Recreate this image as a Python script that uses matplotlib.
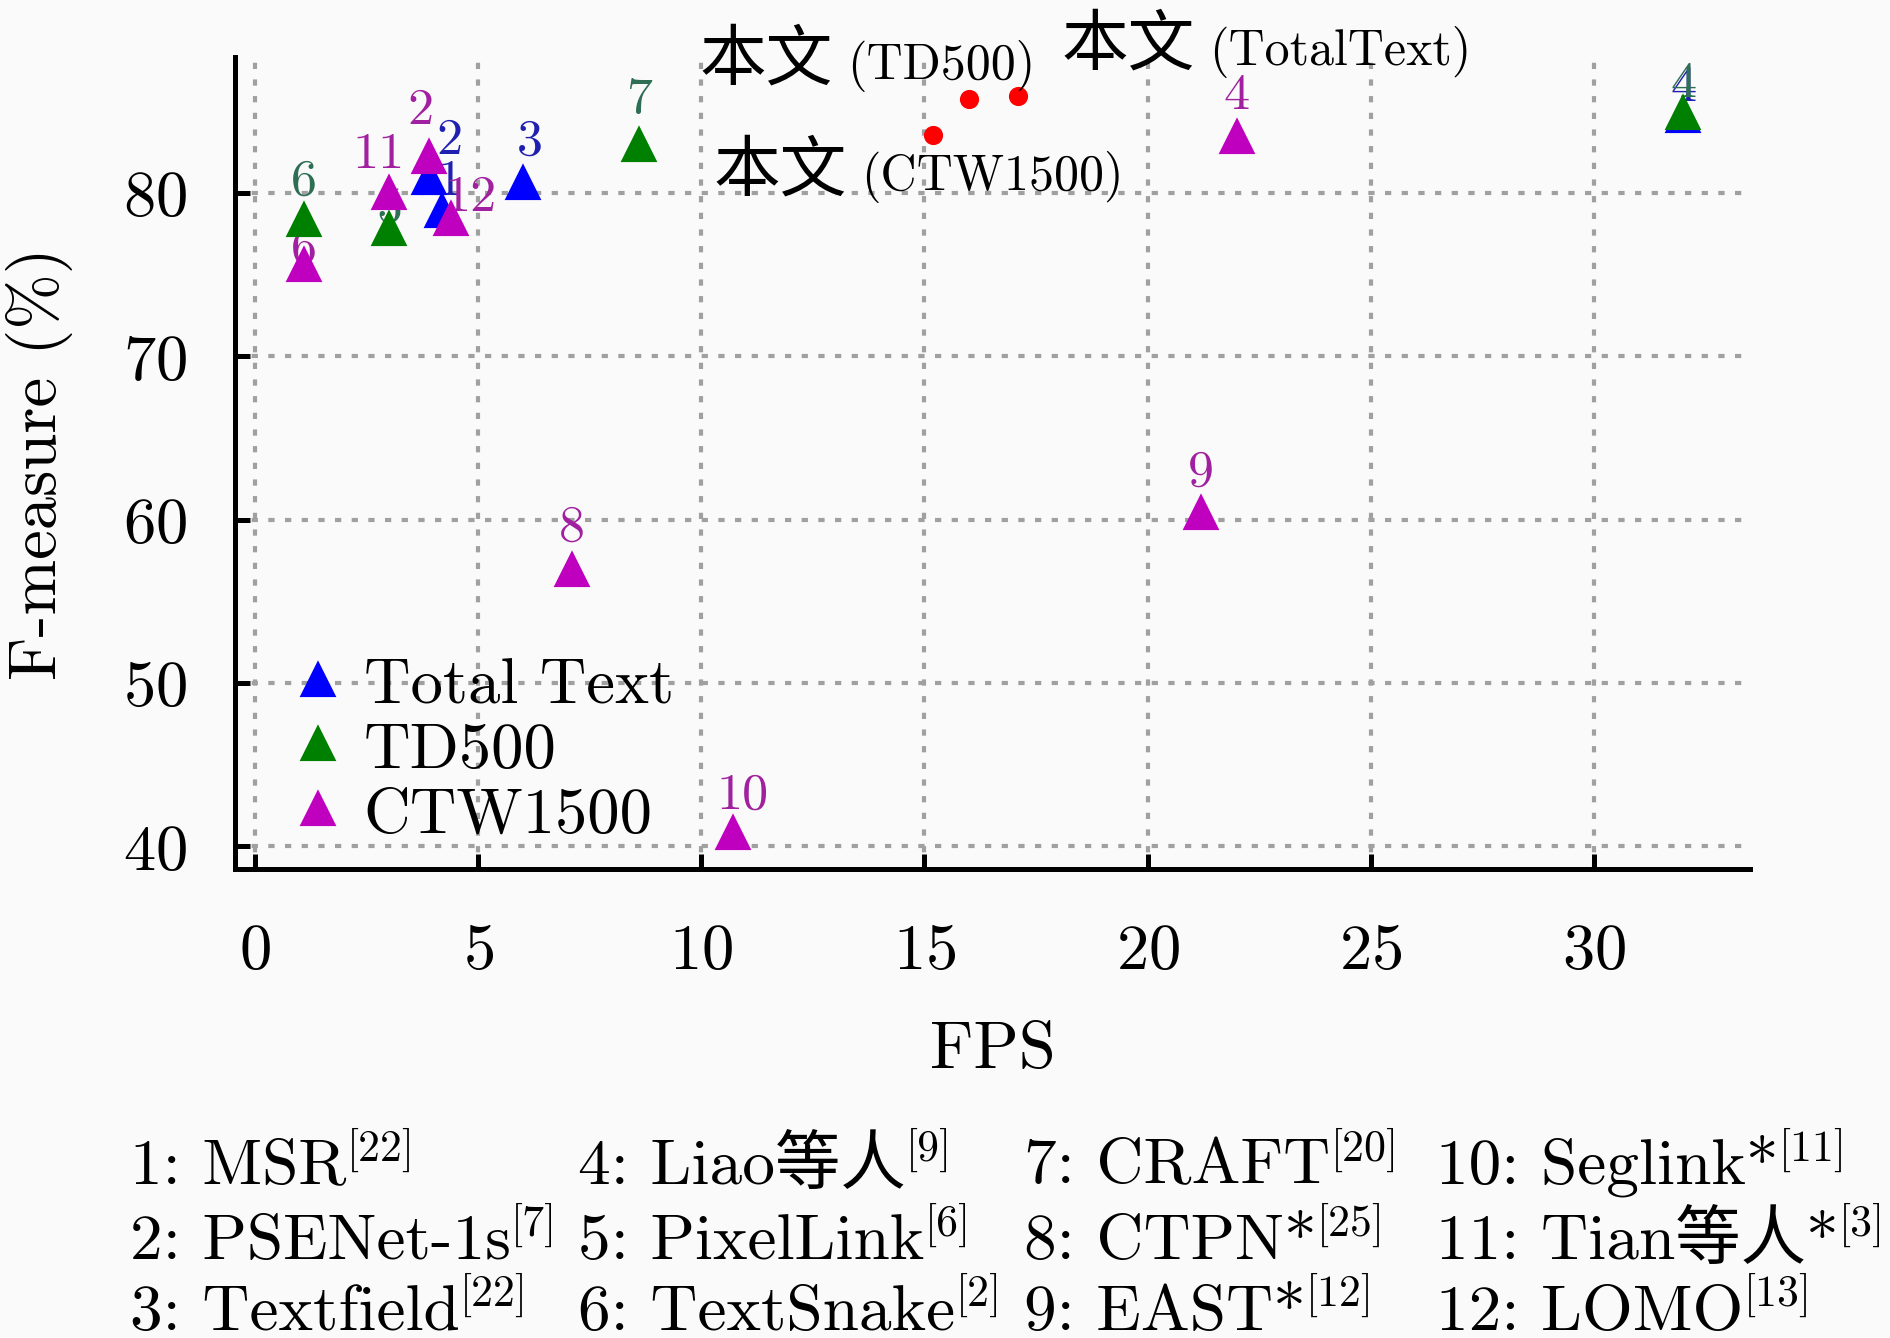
import numpy as np
import matplotlib
matplotlib.use('Agg')
import matplotlib.pyplot as plt

plt.rcParams['font.family'] = ['cmr10', 'Noto Sans CJK SC']
plt.rcParams['mathtext.fontset'] = 'cm'
plt.rcParams['axes.formatter.use_mathtext'] = True
plt.rcParams['axes.unicode_minus'] = False

# Total Text results (FPS, F-measure, method id)
fps_total = [4.2, 3.9, 6.0, 32.0]
f_total = [78.9, 80.9, 80.6, 84.7]
id_total = ['1', '2', '3', '4']

# MSRA-TD500
fps_td500 = [32.0, 3.0, 1.1, 8.6]
f_td500 = [84.9, 77.8, 78.3, 82.9]
id_td500 = ['4', '5', '6', '7']

# CTW1500
fps_ctw = [3.9, 22.0, 1.1, 7.1, 21.2, 10.7, 3.0, 4.4]
f_ctw = [82.2, 83.4, 75.6, 56.9, 60.4, 40.8, 80.0, 78.4]
id_ctw = ['2', '4', '6', '8', '9', '10', '11', '12']

# this paper
ours_names = ['TD500', 'TotalText', 'CTW1500']
ours_fps = [16.0, 17.1, 15.2]
ours_f = [85.7, 85.9, 83.5]

method_names = ['1: MSR', '2: PSENet-1s', '3: Textfield',
                '4: Liao等人', '5: PixelLink', '6: TextSnake',
                '7: CRAFT', '8: CTPN*', '9: EAST*',
                '10: Seglink*', '11: Tian等人*', '12: LOMO']
method_refs = ['22', '7', '22', '9', '6', '2', '20', '25', '12', '11', '3', '13']

# label offsets in points (dx, dy)
off_total = {'1': (1.7, 7), '2': (4.9, 9.2), '3': (1.7, 10), '4': (0, 7)}
off_td500 = {'4': (0, 7), '5': (0, 5), '6': (0, 9.5), '7': (0, 11)}
off_ctw = {'2': (-2, 11.3), '4': (0, 10), '6': (0, 3.8), '8': (0, 10.4),
           '9': (0, 10), '10': (2.3, 9.2), '11': (-2.6, 9.2), '12': (4.5, 5.2)}

# left/baseline of the "(...)" part of each note (data coords)
ours_text_pos = {'TD500': (13.27, 87.0), 'TotalText': (21.38, 87.9),
                 'CTW1500': (13.59, 80.2)}

bg = '#fafafa'
fig = plt.figure(figsize=(6.3, 6.3 * 1339 / 1890), dpi=300, facecolor=bg)
ax = fig.add_axes([0.1243, 0.350, 0.8017, 0.6067], facecolor=bg)

series = [
    ('Total Text', fps_total, f_total, id_total, off_total, '#0000ff', '#2020b0'),
    ('TD500', fps_td500, f_td500, id_td500, off_td500, '#008000', '#2e6e55'),
    ('CTW1500', fps_ctw, f_ctw, id_ctw, off_ctw, '#bf00bf', '#a020a0'),
]
for name, xs, ys, ids, offs, col, lcol in series:
    ax.plot(xs, ys, linestyle='none', marker='^', ms=7.4, color=col,
            markeredgecolor=col, label=name, zorder=3)
    for x, y, k in zip(xs, ys, ids):
        ax.annotate(k, (x, y), xytext=offs[k], textcoords='offset points',
                    ha='center', va='center', fontsize=12.5, color=lcol,
                    zorder=2)

ax.plot(ours_fps, ours_f, linestyle='none', marker='o', ms=3.6, color='red',
        zorder=3)
for name in ours_names:
    px, py = ours_text_pos[name]
    ax.text(px, py, '(' + name + ')', fontsize=12, ha='left', va='baseline')
    ax.annotate('本文', (px, py), xytext=(-3.5, 0), textcoords='offset points',
                fontsize=16, ha='right', va='baseline',
                family='Noto Sans CJK SC')

ax.set_xlim(-0.45, 33.5)
ax.set_ylim(38.6, 88.3)
ax.set_xticks([0, 5, 10, 15, 20, 25, 30])
ax.set_yticks([40, 50, 60, 70, 80])
ax.grid(True, color='#a0a0a0', linestyle=(0, (1.5, 2.5)), linewidth=1.0)
ax.set_axisbelow(True)
for s in ['top', 'right']:
    ax.spines[s].set_visible(False)
for s in ['left', 'bottom']:
    ax.spines[s].set_linewidth(1.2)
ax.tick_params(direction='in', length=3.6, width=1.2, labelsize=15.5)
ax.tick_params(axis='x', pad=13)
ax.tick_params(axis='y', pad=11.5)

ax.set_xlabel('FPS', fontsize=16)
ax.set_ylabel('F-measure (%)', fontsize=16)
ax.xaxis.set_label_coords(0.5, -0.186)
ax.yaxis.set_label_coords(-0.107, 0.5)

ax.legend(loc='lower left', bbox_to_anchor=(0.004, -0.025), frameon=False,
          fontsize=15.5, handlelength=1.0, handletextpad=0.2,
          labelspacing=0.1, borderaxespad=0.3)

# method list under the plot, with reference numbers as superscripts
col_x = [0.0689, 0.306, 0.542, 0.760]
row_y = [0.116, 0.060, 0.007]
renderer = fig.canvas.get_renderer()
inv = fig.transFigure.inverted()
for i, (txt, ref) in enumerate(zip(method_names, method_refs)):
    x0, y0 = col_x[i // 3], row_y[i % 3]
    t = fig.text(x0, y0, txt, fontsize=15.7, ha='left', va='baseline')
    x1 = inv.transform((t.get_window_extent(renderer).x1, 0))[0]
    fig.text(x1, y0 + 5.6 / 72 / fig.get_figheight(), '[' + ref + ']',
             fontsize=10.5, ha='left', va='baseline')

fig.savefig('out.png', dpi=300, facecolor=bg)
